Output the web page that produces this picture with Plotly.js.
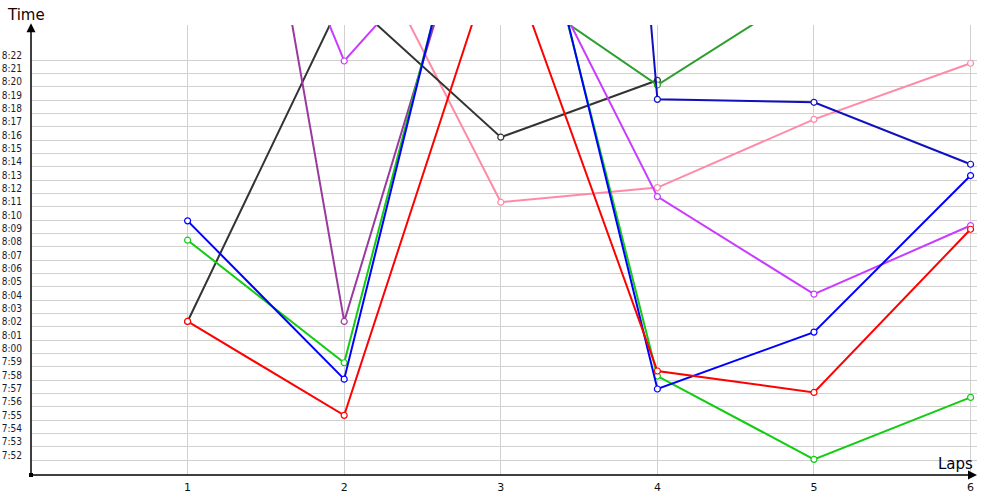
<!DOCTYPE html>
<html>
<head>
<meta charset="utf-8">
<script src="https://cdn.plot.ly/plotly-3.0.1.min.js"></script>
<style>html,body{margin:0;padding:0;background:#fff;}#chart{width:1000px;height:500px;}</style>
</head>
<body>
<div id="chart"></div>
<script>
// Laps on the x axis
const laps = [1, 2, 3, 4, 5, 6];

// Lap times in seconds (e.g. 482.4 = 8:02.4); null = no point
const redTimes       = [482.4, 475.35, 511.3, 478.68, 477.07, 489.32];
const greenTimes     = [488.5, 479.3, 524.6, 478.3, 472.05, 476.7];
const blueTimes      = [489.95, 478.07, 525.5, 477.33, 481.6, 493.35];
const navyTimes      = [null, null, 638.0, 499.07, 498.85, 494.2];
const darkGreenTimes = [null, 505.0, 508.2, 500.15, 507.6, null];
const purpleTimes    = [549.5, 482.4, 521.2, null, null, null];
const violetTimes    = [530.6, 501.95, 515.1, 491.77, 484.45, 489.6];
const blackTimes     = [482.4, 506.9, 496.23, 500.5, null, null];
const pinkTimes      = [null, 514.3, 491.35, 492.45, 497.57, 501.78];

// Y tick values (seconds) and labels
const yTickVals = [472,473,474,475,476,477,478,479,480,481,482,483,484,485,486,487,488,489,490,491,492,493,494,495,496,497,498,499,500,501,502];
const yTickText = ["7:52","7:53","7:54","7:55","7:56","7:57","7:58","7:59","8:00","8:01","8:02","8:03","8:04","8:05","8:06","8:07","8:08","8:09","8:10","8:11","8:12","8:13","8:14","8:15","8:16","8:17","8:18","8:19","8:20","8:21","8:22"];
const xTickText = ["1","2","3","4","5","6"];

const seriesList = [
  {y: pinkTimes, color: '#ff8aa8'},
  {y: blackTimes, color: '#333333'},
  {y: darkGreenTimes, color: '#2e9e2e'},
  {y: navyTimes, color: '#1010c0'},
  {y: purpleTimes, color: '#9a3a9e'},
  {y: violetTimes, color: '#c83cff'},
  {y: greenTimes, color: '#11cc11'},
  {y: blueTimes, color: '#0000ff'},
  {y: redTimes, color: '#ff0000'}
];

const traces = seriesList.map(s => ({
  x: laps,
  y: s.y,
  type: 'scatter',
  mode: 'lines+markers',
  connectgaps: false,
  cliponaxis: true,
  line: {color: s.color, width: 2},
  marker: {symbol: 'circle', size: 6, color: '#ffffff', line: {color: s.color, width: 1.2}},
  hoverinfo: 'skip'
}));

const layout = {
  width: 1000,
  height: 500,
  margin: {l: 31, r: 23, t: 25, b: 25},
  paper_bgcolor: '#ffffff',
  plot_bgcolor: '#ffffff',
  showlegend: false,
  font: {family: '"DejaVu Sans", Verdana, sans-serif', color: '#222222'},
  title: {
    text: 'Time',
    font: {family: '"DejaVu Sans", Verdana, sans-serif', size: 15, color: '#200000'},
    xref: 'container', yref: 'container',
    x: 0.008, xanchor: 'left',
    y: 0.97, yanchor: 'middle'
  },
  xaxis: {
    range: [0, 6.041],
    tickmode: 'array',
    tickvals: laps,
    ticktext: xTickText,
    showgrid: true,
    gridcolor: '#d0d0d0',
    gridwidth: 1,
    zeroline: false,
    showline: false,
    ticks: '',
    ticklabelstandoff: 4,
    tickfont: {family: '"DejaVu Sans", Verdana, sans-serif', size: 11, color: '#111111'},
    fixedrange: true
  },
  yaxis: {
    range: [470.874, 504.652],
    tickmode: 'array',
    tickvals: yTickVals,
    ticktext: yTickText,
    showgrid: true,
    gridcolor: '#d0d0d0',
    gridwidth: 1,
    zeroline: false,
    showline: false,
    ticks: '',
    ticklabelstandoff: 8,
    ticklabelshift: -5,
    tickfont: {family: '"DejaVu Sans Condensed", "DejaVu Sans", sans-serif', size: 10, color: '#1a1a30'},
    fixedrange: true
  },
  annotations: [
    // y axis line with arrow
    {xref: 'paper', yref: 'paper', x: 0, y: 1.004, axref: 'pixel', ayref: 'pixel', ax: 0, ay: 452,
     text: '', showarrow: true, arrowhead: 2, arrowsize: 1.2, arrowwidth: 1.5, arrowcolor: '#000000'},
    // x axis line with arrow
    {xref: 'paper', yref: 'paper', x: 1, y: 0, axref: 'pixel', ayref: 'pixel', ax: -947, ay: 0,
     text: '', showarrow: true, arrowhead: 2, arrowsize: 1.2, arrowwidth: 1.5, arrowcolor: '#000000'},
    {xref: 'paper', yref: 'paper', x: 0.998, y: 0.0244, xanchor: 'right', yanchor: 'middle',
     text: 'Laps', showarrow: false,
     font: {family: '"DejaVu Sans", Verdana, sans-serif', size: 15, color: '#000020'}}
  ],
  shapes: [
    {type: 'rect', xref: 'paper', yref: 'paper', xsizemode: 'pixel', ysizemode: 'pixel',
     xanchor: 0, yanchor: 0, x0: -2, x1: 2, y0: -2, y1: 2,
     fillcolor: '#000000', line: {width: 0}}
  ]
};

Plotly.newPlot('chart', traces, layout, {displayModeBar: false, staticPlot: true});
</script>
</body>
</html>
